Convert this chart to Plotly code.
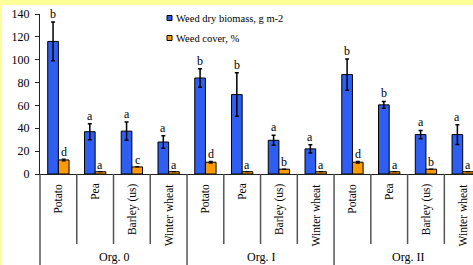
import plotly.graph_objects as go

groups = ["Org. 0", "Org. I", "Org. II"]
crops = ["Potato", "Pea", "Barley (us)", "Winter wheat"]
biomass = [116, 37, 37.5, 28, 84, 69.5, 29.5, 22, 87, 60.5, 34.5, 34.5]
biomass_err = [17, 7, 8, 5.5, 8, 19, 4.4, 3.6, 13.7, 3, 3.6, 8.7]
biomass_letters = ["b", "a", "a", "a", "b", "b", "a", "a", "b", "b", "a", "a"]
cover = [12.3, 2, 6.2, 2, 10.3, 2, 4.2, 2, 10.3, 2, 4.2, 2]
cover_err = [0.8, 0, 0, 0, 0.8, 0, 0, 0, 0.8, 0, 0, 0]
cover_letters = ["d", "a", "c", "a", "d", "a", "b", "a", "d", "a", "b", "a"]
series_names = ["Weed dry biomass, g m-2", "Weed cover, %"]
y_ticks = [0, 20, 40, 60, 80, 100, 120, 140]

BLUE = "#2F5FF2"
ORANGE = "#FF9A00"
FONT = "Liberation Serif, DejaVu Serif, serif"
BW = 0.29
X_MAX = 11.28

n = len(groups) * len(crops)
xs = list(range(n))
cat_labels = [c for g in groups for c in crops]

fig = go.Figure()
fig.add_trace(go.Bar(
    x=xs, y=biomass, width=BW, offset=-BW, name=series_names[0],
    marker=dict(color=BLUE, line=dict(color="black", width=1)),
    error_y=dict(type="data", array=biomass_err, color="black", thickness=1.5, width=2),
    showlegend=False))
fig.add_trace(go.Bar(
    x=xs, y=cover, width=BW, offset=0, name=series_names[1],
    marker=dict(color=ORANGE, line=dict(color="black", width=1)),
    error_y=dict(type="data", array=cover_err, color="black", thickness=1.2, width=2),
    showlegend=False))

ann = []
for i in xs:
    ann.append(dict(x=i - BW / 2, y=biomass[i] + biomass_err[i], xref="x", yref="y",
                    text=biomass_letters[i], showarrow=False, yanchor="bottom",
                    yshift=-1, font=dict(family=FONT, size=12, color="black")))
    ann.append(dict(x=i + BW / 2, y=cover[i] + cover_err[i], xref="x", yref="y",
                    text=cover_letters[i], showarrow=False, yanchor="bottom",
                    yshift=-2, font=dict(family=FONT, size=12, color="black")))
    ann.append(dict(x=i, y=-0.045, xref="x", yref="paper", text=cat_labels[i],
                    textangle=-90, showarrow=False, yanchor="top",
                    font=dict(family=FONT, size=11.5, color="black")))
for gi, g in enumerate(groups):
    ann.append(dict(x=gi * len(crops) + (len(crops) - 1) / 2, y=-0.52, xref="x", yref="paper",
                    text=g, showarrow=False, yanchor="middle",
                    font=dict(family=FONT, size=12, color="black")))

span = X_MAX + 0.5
shapes = []
# white page over the yellow frame
shapes.append(dict(type="rect", xref="paper", yref="paper", x0=(2 - 40) / 433, x1=1.05,
                   y0=(174 - 268) / 160, y1=(174 - 5) / 160,
                   fillcolor="white", line=dict(width=0), layer="below"))
for k in range(1, n + 1):
    xp = k / span
    if xp > 1:
        continue
    long = (k % len(crops) == 0)
    shapes.append(dict(type="line", xref="paper", yref="paper", x0=xp, x1=xp,
                       y0=0, y1=-0.6 if long else -0.4375,
                       line=dict(color="#555555", width=1.5)))
shapes.append(dict(type="line", xref="paper", yref="paper", x0=0, x1=0,
                   y0=0, y1=-0.6, line=dict(color="#555555", width=1.5)))

# legend (manual)
leg_colors = [BLUE, ORANGE]
leg_y = [(174 - 18) / 160, (174 - 38) / 160]
for name, col, ly in zip(series_names, leg_colors, leg_y):
    shapes.append(dict(type="rect", xref="paper", yref="paper", xsizemode="pixel",
                       ysizemode="pixel", xanchor=(169.5 - 40) / 433, yanchor=ly,
                       x0=-2.5, x1=2.5, y0=-2.5, y1=2.5, fillcolor=col,
                       line=dict(color="black", width=1)))
    ann.append(dict(x=(174 - 40) / 433, y=ly, xref="paper", yref="paper", text=name,
                    showarrow=False, xanchor="left", yanchor="middle",
                    font=dict(family=FONT, size=10.5, color="black")))

fig.update_layout(
    width=473, height=265,
    margin=dict(l=40, r=0, t=14, b=91),
    paper_bgcolor="#FFFF99", plot_bgcolor="white",
    barmode="overlay",
    showlegend=False,
    annotations=ann, shapes=shapes,
    font=dict(family=FONT, size=12, color="black"),
)
fig.update_xaxes(range=[-0.5, X_MAX], showticklabels=False, showgrid=False, zeroline=False,
                 showline=True, linecolor="#222222", linewidth=1.2, ticks="")
fig.update_yaxes(range=[0, 140], tickvals=y_ticks, showgrid=False, zeroline=False,
                 showline=True, linecolor="#222222", linewidth=1.2, ticks="outside",
                 ticklen=4, tickcolor="#222222", ticklabelstandoff=3,
                 tickfont=dict(family=FONT, size=12, color="black"))

fig.write_html("out.html", config={"displayModeBar": False},
               post_script="document.body.style.margin='0';document.body.style.overflow='hidden';")
